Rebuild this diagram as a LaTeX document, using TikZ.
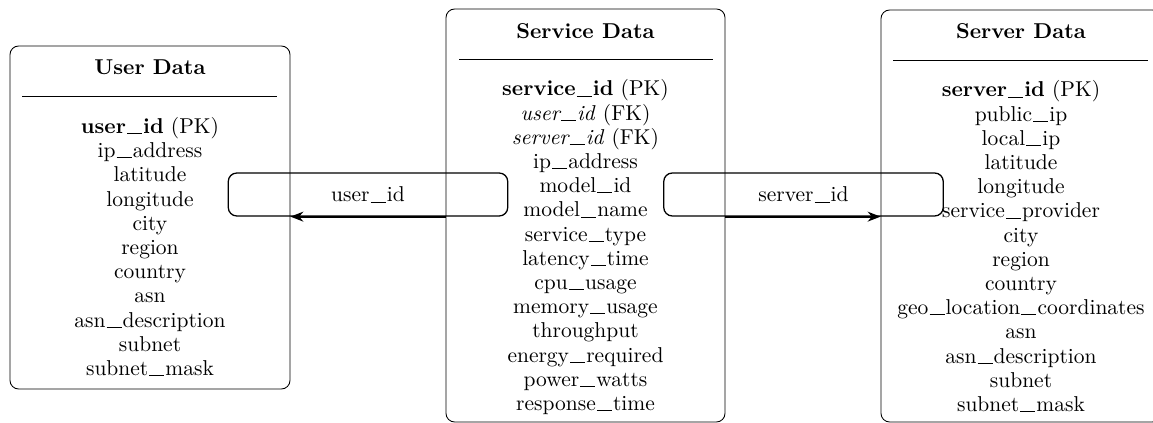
\documentclass[tikz,border=0pt]{standalone}
\usetikzlibrary{arrows.meta,fit}
\newcommand\us{\kern0.05em\rule[-0.05ex]{0.7em}{0.4pt}\kern0.05em}
\begin{document}
\begin{tikzpicture}[x=0.4651pt,y=-0.4651pt,
  box/.style={draw, rounded corners=4pt, inner sep=0pt, line width=0.4pt},
  ttl/.style={anchor=base, font=\bfseries, inner sep=0pt},
  row/.style={anchor=base, inner sep=0pt},
  lbl/.style={draw, rounded corners=4pt, line width=0.6pt, minimum width=130pt, minimum height=20pt, inner sep=0pt},
  arr/.style={-{Stealth[length=6pt,width=4.6pt]}, line width=0.9pt}]
\useasboundingbox (0,0) rectangle (1153,423);
\clip (0,0) rectangle (1153,423);
% boxes
\node[box, fit={(10,46) (290,389)}] (user) {};
\node[box, fit={(446,9) (725,422)}] (service) {};
\node[box, fit={(881,10) (1161,422)}] (server) {};
% titles
\node[ttl] (ut) at (150,75) {User Data};
\node[ttl] (vt) at (585.5,38.5) {Service Data};
\node[ttl] (st) at (1021,38.5) {Server Data};
% rules
\draw (22,96) -- (277,96);
\draw (459,59.5) -- (713,59.5);
\draw (893,60.5) -- (1148,60.5);
% user rows
\foreach \t [count=\i] in {{\textbf{user\us id} (PK)}, ip\us address, latitude, longitude, city, region, country, asn, asn\us description, subnet, subnet\us mask}
  \node[row] (u\i) at (150,{133.5+24.2*(\i-1)}) {\t};
% service rows
\foreach \t [count=\i] in {{\textbf{service\us id} (PK)}, {\textit{user\us id} (FK)}, {\textit{server\us id} (FK)}, ip\us address, model\us id, model\us name, service\us type, latency\us time, cpu\us usage, memory\us usage, throughput, energy\us required, power\us watts, response\us time}
  \node[row] (v\i) at (585.5,{96+24.2*(\i-1)}) {\t};
% server rows
\foreach \t [count=\i] in {{\textbf{server\us id} (PK)}, public\us ip, local\us ip, latitude, longitude, service\us provider, city, region, country, geo\us location\us coordinates, asn, asn\us description, subnet, subnet\us mask}
  \node[row] (s\i) at (1021,{97+24.2*(\i-1)}) {\t};
% connector labels
\node[lbl, text depth=0pt] (ulbl) at (368,194.5) {user\us id};
\node[lbl, text depth=0pt] (slbl) at (803.5,194.5) {server\us id};
% connectors
\draw[arr] (service.west |- ulbl.south) -- (user.east |- ulbl.south);
\draw[arr] (service.east |- slbl.south) -- (server.west |- slbl.south);
\end{tikzpicture}
\end{document}
